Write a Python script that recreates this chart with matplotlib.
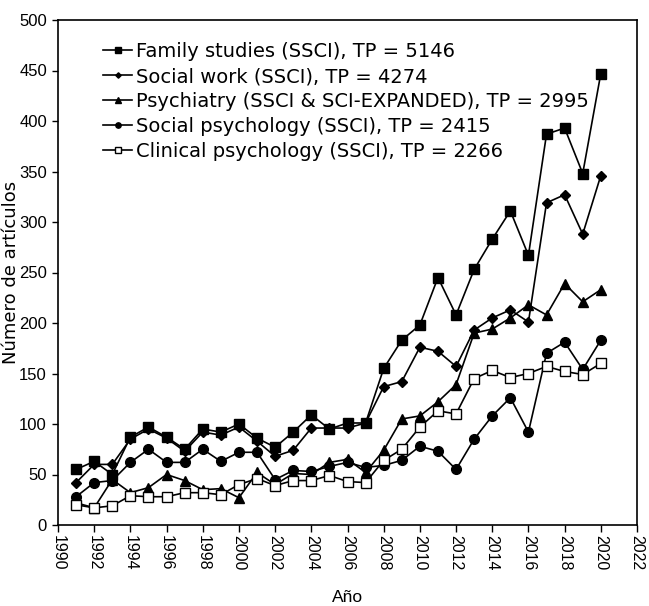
import matplotlib
matplotlib.use("Agg")
import matplotlib.pyplot as plt
from matplotlib import font_manager

years = list(range(1991, 2021))

family_studies = [55, 63, 50, 87, 97, 87, 75, 95, 92, 100, 86, 77, 92, 109, 95,
                  101, 101, 155, 183, 198, 245, 208, 253, 283, 311, 267, 387, 393, 348, 447]
social_work = [42, 60, 60, 85, 95, 86, 73, 92, 89, 97, 83, 68, 74, 96, 96,
               96, 101, 137, 142, 176, 172, 157, 193, 205, 213, 201, 319, 327, 288, 346]
psychiatry = [22, 17, 45, 32, 37, 50, 44, 35, 36, 27, 52, 40, 51, 50, 62,
              65, 52, 74, 105, 108, 122, 139, 190, 194, 205, 218, 208, 239, 221, 233]
social_psych = [28, 42, 44, 62, 75, 62, 62, 75, 63, 72, 72, 45, 54, 53, 58,
                62, 57, 59, 64, 78, 73, 55, 85, 108, 126, 92, 170, 181, 154, 183]
clinical_psych = [20, 17, 19, 29, 28, 28, 32, 32, 30, 40, 46, 39, 44, 44, 49,
                  43, 42, 64, 75, 97, 113, 110, 145, 153, 146, 150, 157, 152, 149, 160]

labels = ["Family studies (SSCI), TP = 5146",
          "Social work (SSCI), TP = 4274",
          "Psychiatry (SSCI & SCI-EXPANDED), TP = 2995",
          "Social psychology (SSCI), TP = 2415",
          "Clinical psychology (SSCI), TP = 2266"]

x_ticks = list(range(1990, 2023, 2))
y_ticks = list(range(0, 501, 50))

names = {f.name for f in font_manager.fontManager.ttflist}
narrow = "Liberation Sans Narrow" if "Liberation Sans Narrow" in names else "Liberation Sans"

fig = plt.figure(figsize=(6.49, 6.06), dpi=100)
ax = fig.add_axes([58/649, 81/606, 579/649, 505/606])

lw = 1.2
ax.plot(years, family_studies, color="black", lw=lw, marker="s", ms=7, mfc="black", label=labels[0])
ax.plot(years, social_work, color="black", lw=lw, marker="D", ms=5, mfc="black", label=labels[1])
ax.plot(years, psychiatry, color="black", lw=lw, marker="^", ms=7, mfc="black", label=labels[2])
ax.plot(years, social_psych, color="black", lw=lw, marker="o", ms=7, mfc="black", label=labels[3])
ax.plot(years, clinical_psych, color="black", lw=lw, marker="s", ms=7, mfc="white", mew=1.0, label=labels[4])

ax.set_xlim(1990, 2022)
ax.set_ylim(0, 500)
ax.set_xticks(x_ticks)
ax.set_xticklabels([str(t) for t in x_ticks], rotation=270, fontsize=11.5, family="Liberation Sans")
ax.set_yticks(y_ticks)
ax.set_yticklabels([str(t) for t in y_ticks], fontsize=12, family=narrow)
ax.tick_params(direction="out", length=4, width=1)
ax.tick_params(axis="x", length=5, pad=2)
ax.tick_params(axis="y", pad=4)
for s in ax.spines.values():
    s.set_linewidth(1.2)

ax.set_xlabel("Año", fontsize=12.5, family="Liberation Sans", labelpad=14)
ax.set_ylabel("Número de artículos", fontsize=13, family="DejaVu Sans")
ax.yaxis.set_label_coords(-0.066, 0.5)

leg = ax.legend(loc="upper left", bbox_to_anchor=(0.058, 0.979), frameon=False,
                fontsize=14, markerscale=0.55, handlelength=1.5, handletextpad=0.2,
                labelspacing=0.3, borderaxespad=0.2)
for t in leg.get_texts():
    t.set_family("DejaVu Sans")

fig.savefig("out.png", dpi=100)
